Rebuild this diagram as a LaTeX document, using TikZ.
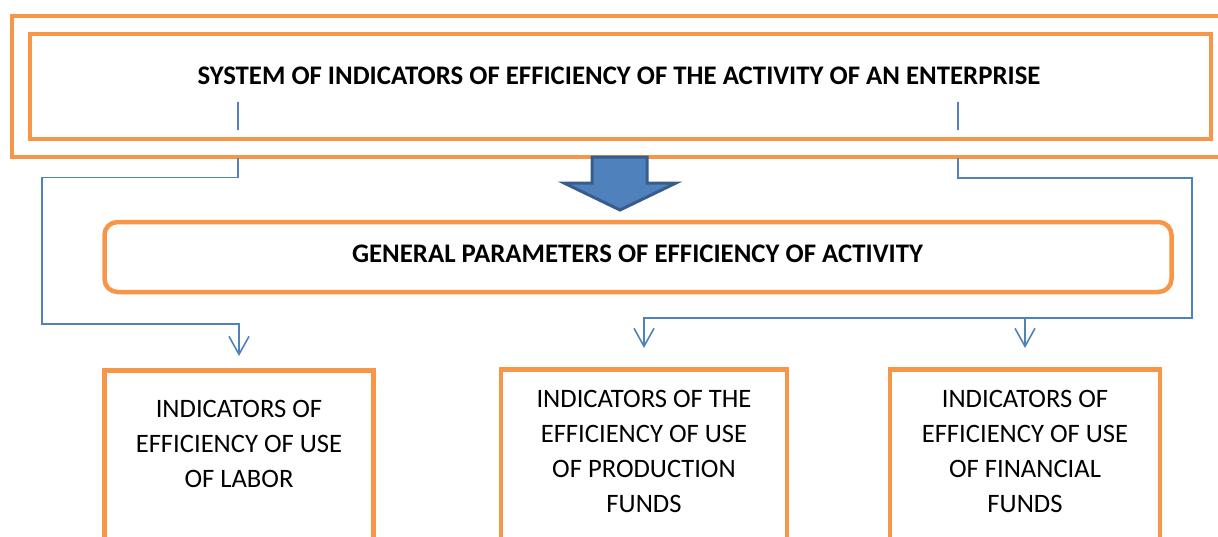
\documentclass[tikz,border=0pt]{standalone}
\usepackage{fontspec}
\setmainfont{Carlito}
\usetikzlibrary{positioning,arrows.meta}
\definecolor{frameorange}{HTML}{F79646}
\definecolor{linkblue}{HTML}{4F81BD}
\definecolor{arrowedge}{HTML}{385D8A}

\begin{document}
\begin{tikzpicture}[x=1pt,y=-1pt,
		framebox/.style={draw=frameorange,line width=4.5pt,inner sep=0pt},
		cellbox/.style={framebox,anchor=north,minimum height=240pt},
		headtext/.style={inner sep=0pt,font=\bfseries\fontsize{26.8}{30}\selectfont},
		celltext/.style={align=center,inner sep=0pt,font=\fontsize{26.6}{35}\selectfont},
		link/.style={draw=linkblue,line width=1.6pt},
		linkarrow/.style={link,-{Straight Barb[length=18pt,width=20pt,line width=1.6pt]}}]
		\path[use as bounding box,clip] (0,0) rectangle (1218,536);

		% top frames
		\node[framebox,minimum width=1220pt,minimum height=141pt]				(outer)		at (622,86.5)	{};
		\node[framebox,minimum width=1181pt,minimum height=105pt]				(sysbox)	at (620.5,86.5)	{};
		\node[headtext]															(systitle)	at (619,76)		{SYSTEM OF INDICATORS OF EFFICIENCY OF THE ACTIVITY OF AN ENTERPRISE};

		% general parameters
		\node[framebox,rounded corners=13pt,minimum width=1067pt,minimum height=70pt]	(general)	at (638,257)	{};
		\node[headtext]															(gentitle)	at (637.5,254)	{GENERAL PARAMETERS OF EFFICIENCY OF ACTIVITY};

		% bottom boxes
		\node[cellbox,minimum width=269pt]										(labor)		at (239,368)	{};
		\node[cellbox,minimum width=286pt]										(production)	at (644,367)	{};
		\node[cellbox,minimum width=270pt]										(financial)	at (1025,367)	{};
		\node[celltext,below=32pt of labor.north]								(labortext)		{INDICATORS OF\\EFFICIENCY OF USE\\OF LABOR};
		\node[celltext,below=23pt of production.north]							(productiontext)	{INDICATORS OF THE\\EFFICIENCY OF USE\\OF PRODUCTION\\FUNDS};
		\node[celltext,below=23pt of financial.north]							(financialtext)	{INDICATORS OF\\EFFICIENCY OF USE\\OF FINANCIAL\\FUNDS};

		% connector points
		\coordinate (la) at (238,102);
		\coordinate (lb) at (238,129.5);
		\coordinate (lc) at (238,158);
		\coordinate (ld) at (42,177.5);
		\coordinate (le) at (42,324);
		\coordinate (lf) at ([yshift=12pt]labor.north);
		\coordinate (ra) at (958,102);
		\coordinate (rb) at (958,129.5);
		\coordinate (rc) at (958,158);
		\coordinate (rd) at (1192,178);
		\coordinate (re) at (1192,318);
		\coordinate (rf) at ([yshift=19pt]production.north);
		\coordinate (rg) at ([yshift=19pt]financial.north);

		\draw[link] (la) -- (lb);
		\draw[link] (ra) -- (rb);
		\draw[linkarrow] (lc) |- (ld) -- (le) -| (lf);
		\draw[linkarrow] (rc) |- (rd) -- (re) -| (rf);
		\draw[linkarrow] (rg |- re) -- (rg);

		% big arrow
		\draw[fill=linkblue,draw=arrowedge,line width=3pt,line join=miter]
			(592,157) -- (647,157) -- (647,183) -- (676,183) -- (620,210) -- (564,183) -- (592,183) -- cycle;
	\end{tikzpicture}
\end{document}
